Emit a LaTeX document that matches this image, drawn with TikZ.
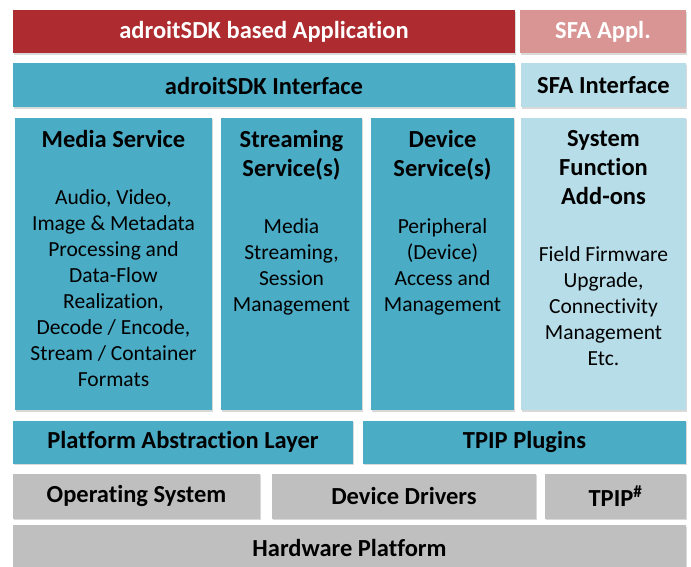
\documentclass[tikz,border=0pt]{standalone}
\usepackage{fontspec}
\setmainfont{Carlito}[Ligatures=NoCommon]
\usepackage{xcolor}
\usetikzlibrary{positioning,shadows}
\definecolor{appred}{RGB}{174,43,47}
\definecolor{apppink}{RGB}{217,149,148}
\definecolor{sdkteal}{RGB}{75,172,198}
\definecolor{sfalight}{RGB}{183,221,232}
\definecolor{basegray}{RGB}{191,191,191}

\begin{document}
\begin{tikzpicture}[x=1pt,y=-1pt,node distance=10pt]
    \tikzstyle{layer}=[rectangle,inner sep=0pt,drop shadow={shadow xshift=1pt,shadow yshift=-1.5pt,opacity=.3},font=\bfseries\fontsize{24.5}{29}\selectfont]
    \tikzstyle{column}=[layer,minimum height=292pt]
    \tikzstyle{colhead}=[inner sep=0pt,align=center,text depth=0pt,font=\bfseries\fontsize{24.5}{29}\selectfont]
    \tikzstyle{colbody}=[inner sep=0pt,align=center,font=\fontsize{21.5}{26}\selectfont]
    \useasboundingbox (0,0) rectangle (691,567);
    \begin{scope}
      \clip (0,0) rectangle (691,567);
      % application row
      \node[layer,fill=appred,text=white,minimum width=502pt,minimum height=43pt](app) at (264,32) {adroitSDK based Application};
      \node[layer,fill=apppink,text=white,minimum width=166pt,minimum height=43pt](sfaapp) at (603,32) {SFA Appl.};
      % interface row
      \node[layer,fill=sdkteal,minimum width=502pt,minimum height=44pt](sdkif) at (264,85.5) {adroitSDK Interface};
      \node[layer,fill=sfalight,minimum width=165pt,minimum height=44pt](sfaif) at (603.5,85.5) {SFA Interface};
      % services
      \node[column,fill=sdkteal,minimum width=197pt](media) at (113.5,264) {};
      \node[column,fill=sdkteal,minimum width=141pt](stream) at (291.5,264) {};
      \node[column,fill=sdkteal,minimum width=143pt](device) at (442.5,264) {};
      \node[column,fill=sfalight,minimum width=165pt](addons) at (603.5,264) {};
      \node[colhead,below=12.5pt of media.north](mediahead){Media Service};
      \node[colbody,below=41pt of mediahead.south](mediabody){Audio, Video,\\Image \& Metadata\\Processing and\\Data-Flow\\Realization,\\Decode / Encode,\\Stream / Container\\Formats};
      \node[colhead,below=12.5pt of stream.north](streamhead){Streaming\\Service(s)};
      \node[colbody,below=41pt of streamhead.south](streambody){Media\\Streaming,\\Session\\Management};
      \node[colhead,below=12.5pt of device.north](devicehead){Device\\Service(s)};
      \node[colbody,below=41pt of devicehead.south](devicebody){Peripheral\\(Device)\\Access and\\Management};
      \node[colhead,below=12.5pt of addons.north](addonshead){System\\Function\\Add-ons};
      \node[colbody,below=42pt of addonshead.south](addonsbody){Field Firmware\\Upgrade,\\Connectivity\\Management\\Etc.};
      % platform rows
      \node[layer,fill=sdkteal,minimum width=340pt,minimum height=43pt](pal) at (183,442) {Platform Abstraction Layer};
      \node[layer,fill=sdkteal,minimum width=323pt,minimum height=43pt](plugins) at (524.5,442) {TPIP Plugins};
      \node[layer,fill=basegray,minimum width=247pt,minimum height=45pt](os) at (136.5,496) {Operating System};
      \node[layer,fill=basegray,minimum width=264pt,minimum height=45pt](drivers) at (404,496) {Device Drivers};
      \node[layer,fill=basegray,minimum width=141pt,minimum height=45pt](tpip) at (615.5,496) {TPIP\textsuperscript{\#}};
      \node[layer,fill=basegray,minimum width=673pt,minimum height=46pt](hw) at (349.5,548) {Hardware Platform};
    \end{scope}
\end{tikzpicture}
\end{document}
